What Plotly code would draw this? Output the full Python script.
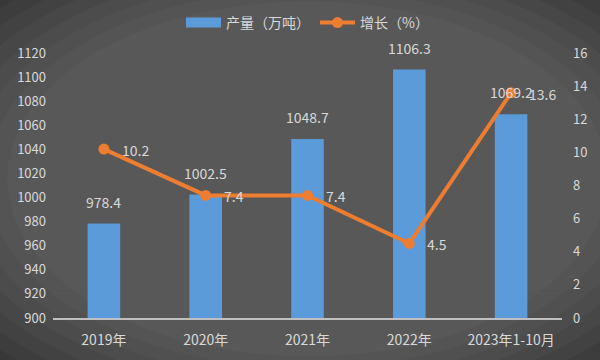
import plotly.graph_objects as go

categories = ["2019年", "2020年", "2021年", "2022年", "2023年1-10月"]
production = [978.4, 1002.5, 1048.7, 1106.3, 1069.2]
growth = [10.2, 7.4, 7.4, 4.5, 13.6]
left_ticks = list(range(900, 1121, 20))
right_ticks = list(range(0, 17, 2))

FONT = "Noto Sans CJK SC"
TXT = "#d9d9d9"
BLUE = "#5b9bd9"
ORANGE = "#ed7d31"

fig = go.Figure()
fig.add_trace(go.Bar(
    x=categories, y=production, name="产量（万吨）", showlegend=False,
    marker=dict(color=BLUE, line=dict(width=0)),
    width=0.32, yaxis="y",
))
# legend proxy for bars (wide rectangle swatch)
fig.add_trace(go.Scatter(
    x=[None], y=[None], name="产量（万吨）", mode="lines",
    line=dict(color=BLUE, width=10), yaxis="y",
))
fig.add_trace(go.Scatter(
    x=categories, y=growth, name="增长（%）", yaxis="y2",
    mode="lines+markers",
    line=dict(color=ORANGE, width=4),
    marker=dict(color=ORANGE, size=11),
))
for c, v in zip(categories, production):
    fig.add_annotation(x=c, y=v, yref="y", text=f"{v}", showarrow=False,
                       yanchor="bottom", yshift=10,
                       font=dict(color=TXT, size=14, family=FONT))
for c, v in zip(categories, growth):
    fig.add_annotation(x=c, y=v, yref="y2", text=f"{v}", showarrow=False,
                       xanchor="left", yanchor="middle", xshift=16, yshift=-1,
                       font=dict(color=TXT, size=14, family=FONT))

# approximate radial background gradient
shapes = []
n = 10
for i in range(n):
    f = i / n
    shapes.append(dict(type="circle", xref="paper", yref="paper",
                       x0=-0.45 + 0.4 * f, x1=1.45 - 0.4 * f,
                       y0=-0.55 + 0.45 * f, y1=1.6 - 0.45 * f,
                       fillcolor="rgba(255,255,255,0.028)", line=dict(width=0),
                       layer="below"))

fig.update_layout(
    width=600, height=360,
    paper_bgcolor="#292929", plot_bgcolor="rgba(0,0,0,0)",
    margin=dict(l=53, r=38, t=53, b=42, autoexpand=False),
    font=dict(family=FONT, color=TXT, size=13),
    shapes=shapes,
    showlegend=True,
    legend=dict(orientation="h", x=0.5, xanchor="center",
                yref="container", y=1 - 23 / 360, yanchor="middle",
                font=dict(size=14, color=TXT, family=FONT), bgcolor="rgba(0,0,0,0)",
                itemwidth=35, tracegroupgap=0),
    xaxis=dict(showline=True, linecolor="#bfbfbf", linewidth=1.5, showgrid=False,
               ticks="", tickfont=dict(size=14, color=TXT), ticklabelstandoff=8),
    yaxis=dict(range=[900, 1120], tickvals=left_ticks, showgrid=True,
               gridcolor="#575757", gridwidth=1, zeroline=False, showline=False,
               tickfont=dict(size=13, color=TXT), ticklabelstandoff=6),
    yaxis2=dict(range=[0, 16], tickvals=right_ticks, overlaying="y", side="right",
                showgrid=False, zeroline=False, showline=False,
                tickfont=dict(size=13, color=TXT), ticklabelstandoff=10),
)

fig.write_html("out.html")
